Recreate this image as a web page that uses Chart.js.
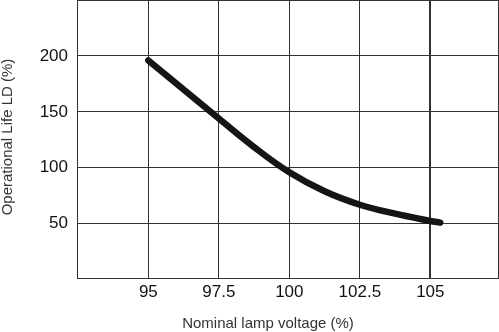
<!DOCTYPE html>
<html>
<head>
<meta charset="utf-8">
<script src="https://cdn.jsdelivr.net/npm/chart.js@4.4.1/dist/chart.umd.min.js"></script>
<style>
  html, body { margin: 0; padding: 0; background: #fff; }
  #wrap { width: 499px; height: 332px; }
</style>
</head>
<body>
<div id="wrap"><canvas id="c" width="499" height="332"></canvas></div>
<script>
// Operational life versus lamp supply voltage
const voltage = [95, 96.25, 97.5, 98.75, 100, 101.25, 102.5, 103.75, 105, 105.35];
const lifeLD  = [196, 170, 144, 118.5, 96, 79, 67, 59, 52.5, 51];

const xTicks = [95, 97.5, 100, 102.5, 105];
const yTicks = [50, 100, 150, 200];

const xTitle = 'Nominal lamp voltage (%)';
const yTitle = 'Operational Life LD (%)';

const X_MIN = 92.47, X_MAX = 107.4;
const Y_MIN = 1.5, Y_MAX = 250;

const FONT = '"Liberation Sans", Arial, Helvetica, sans-serif';
const GRID = '#333333';

// Axis titles drawn as canvas text at fixed spots
const axisTitles = {
  id: 'axisTitles',
  afterDraw(chart) {
    const ctx = chart.ctx;
    ctx.save();
    ctx.fillStyle = '#333333';
    ctx.font = '15px ' + FONT;
    ctx.textAlign = 'center';
    ctx.textBaseline = 'alphabetic';
    ctx.fillText(xTitle, 268, 328);
    ctx.translate(11.5, 137);
    ctx.rotate(-Math.PI / 2);
    ctx.fillText(yTitle, 0, 0);
    ctx.restore();
  }
};

new Chart(document.getElementById('c'), {
  type: 'scatter',
  data: {
    datasets: [{
      data: voltage.map((v, i) => ({ x: v, y: lifeLD[i] })),
      showLine: true,
      borderColor: '#151515',
      borderWidth: 6.5,
      borderCapStyle: 'round',
      borderJoinStyle: 'round',
      tension: 0.4,
      pointRadius: 0,
      pointHoverRadius: 0,
      fill: false
    }]
  },
  options: {
    responsive: false,
    animation: false,
    events: [],
    layout: { padding: { top: 0, right: 1, left: 0, bottom: 0 } },
    plugins: {
      legend: { display: false },
      tooltip: { enabled: false }
    },
    scales: {
      x: {
        type: 'linear',
        min: X_MIN,
        max: X_MAX,
        afterBuildTicks: s => { s.ticks = [X_MIN, ...xTicks, X_MAX].map(v => ({ value: v })); },
        afterFit: s => {
          s.height = 54;
          s.paddingLeft = 0; s.paddingRight = 0;
        },
        grid: {
          color: GRID,
          lineWidth: c => (c.tick && c.tick.value === 105 ? 2 : 1),
          drawTicks: false
        },
        border: { display: true, color: GRID, width: 1 },
        ticks: {
          padding: 4,
          autoSkip: false,
          maxRotation: 0,
          color: '#111111',
          font: { family: FONT, size: 17 },
          callback: v => (xTicks.includes(v) ? String(v) : '')
        }
      },
      y: {
        type: 'linear',
        min: Y_MIN,
        max: Y_MAX,
        afterBuildTicks: s => { s.ticks = [...yTicks, Y_MAX].map(v => ({ value: v })); },
        afterFit: s => {
          s.width = 77;
          s.paddingTop = 0; s.paddingBottom = 0;
        },
        grid: { color: GRID, lineWidth: 1, drawTicks: false },
        border: { display: true, color: GRID, width: 1 },
        ticks: {
          padding: 9,
          autoSkip: false,
          color: '#111111',
          font: { family: FONT, size: 17 },
          callback: v => (yTicks.includes(v) ? String(v) : '')
        }
      }
    }
  },
  plugins: [axisTitles]
});
</script>
</body>
</html>
